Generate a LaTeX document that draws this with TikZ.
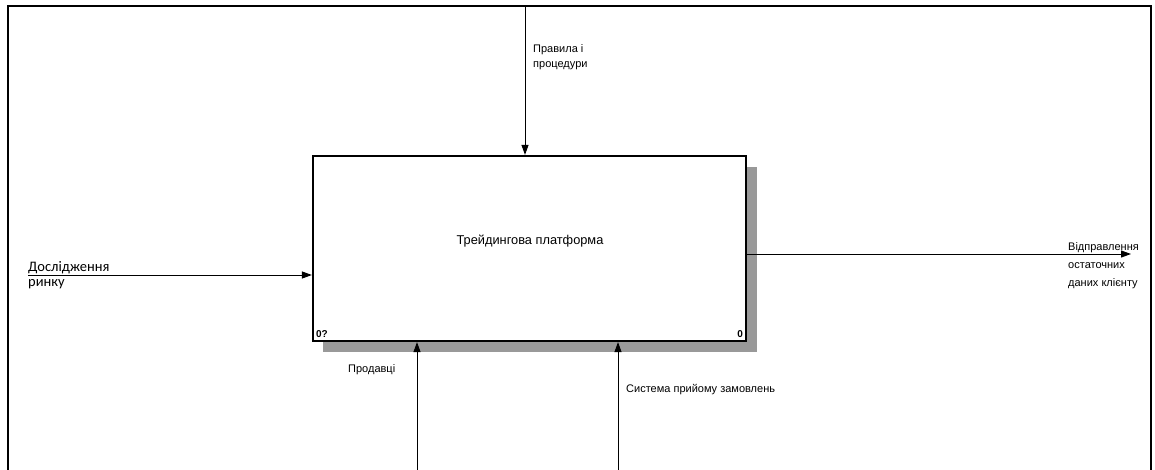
\documentclass[tikz,border=0pt]{standalone}
\usepackage{fontspec}
\setmainfont{Liberation Sans}
\newfontfamily\carlitofont{Carlito}
\usetikzlibrary{arrows.meta}
\begin{document}
\begin{tikzpicture}[x=1pt,y=-1pt,
  flow/.style={line width=1pt,-{Triangle[length=10pt,width=7pt]}},
  lbl/.style={inner sep=0pt,anchor=base west,align=left,font=\fontsize{11}{15}\selectfont},
  shadow/.style={fill=black!40,draw=none}]
\useasboundingbox (0,0) rectangle (1155,470);
% outer frame, open at the bottom
\draw[line width=2pt] (8,475) -- (8,6) -- (1151,6) -- (1151,475);
% drop shadow of the activity box
\fill[shadow] (746,167) rectangle (757,352);
\fill[shadow] (323,341) rectangle (757,352);
% activity box
\node[draw,line width=2.2pt,fill=white,minimum width=433pt,minimum height=185pt,inner sep=0pt] (A0) at (529.5,248.5) {};
\node[inner sep=0pt,anchor=base,font=\fontsize{12.8}{15}\selectfont] (title) at (530,244) {Трейдингова платформа};
\node[anchor=south west,inner sep=4pt,font=\bfseries\fontsize{10}{12}\selectfont] (num) at (A0.south west) {0?};
\node[anchor=south east,inner sep=4pt,font=\bfseries\fontsize{10}{12}\selectfont] (idx) at (A0.south east) {0};
% boundary points
\coordinate (ctl) at (525,6);
\coordinate (inp) at (28,275);
\coordinate (outp) at (1131,254);
\coordinate (mech1) at (417,475);
\coordinate (mech2) at (618,475);
% arrows
\draw[flow] (ctl) -- (ctl |- A0.north);
\draw[flow] (inp) -- (inp -| A0.west);
\draw[flow] (outp -| A0.east) -- (outp);
\draw[flow] (mech1) -- (mech1 |- A0.south);
\draw[flow] (mech2) -- (mech2 |- A0.south);
% labels
\node[lbl] (lctl) at (533,53) {Правила і};
\node[lbl] (lctl2) at (533,68) {процедури};
\node[lbl,font=\carlitofont\fontsize{14.5}{17}\selectfont] (linp1) at (28,271.5) {Дослідження};
\node[lbl,font=\carlitofont\fontsize{14.5}{17}\selectfont] (linp2) at (28,286) {ринку};
\node[lbl] (lout1) at (1068,250) {Відправлення};
\node[lbl] (lout2) at (1068,268) {остаточних};
\node[lbl] (lout3) at (1068,286) {даних клієнту};
\node[lbl] (lm1) at (348,372) {Продавці};
\node[lbl] (lm2) at (626,392) {Система прийому замовлень};
\end{tikzpicture}
\end{document}
